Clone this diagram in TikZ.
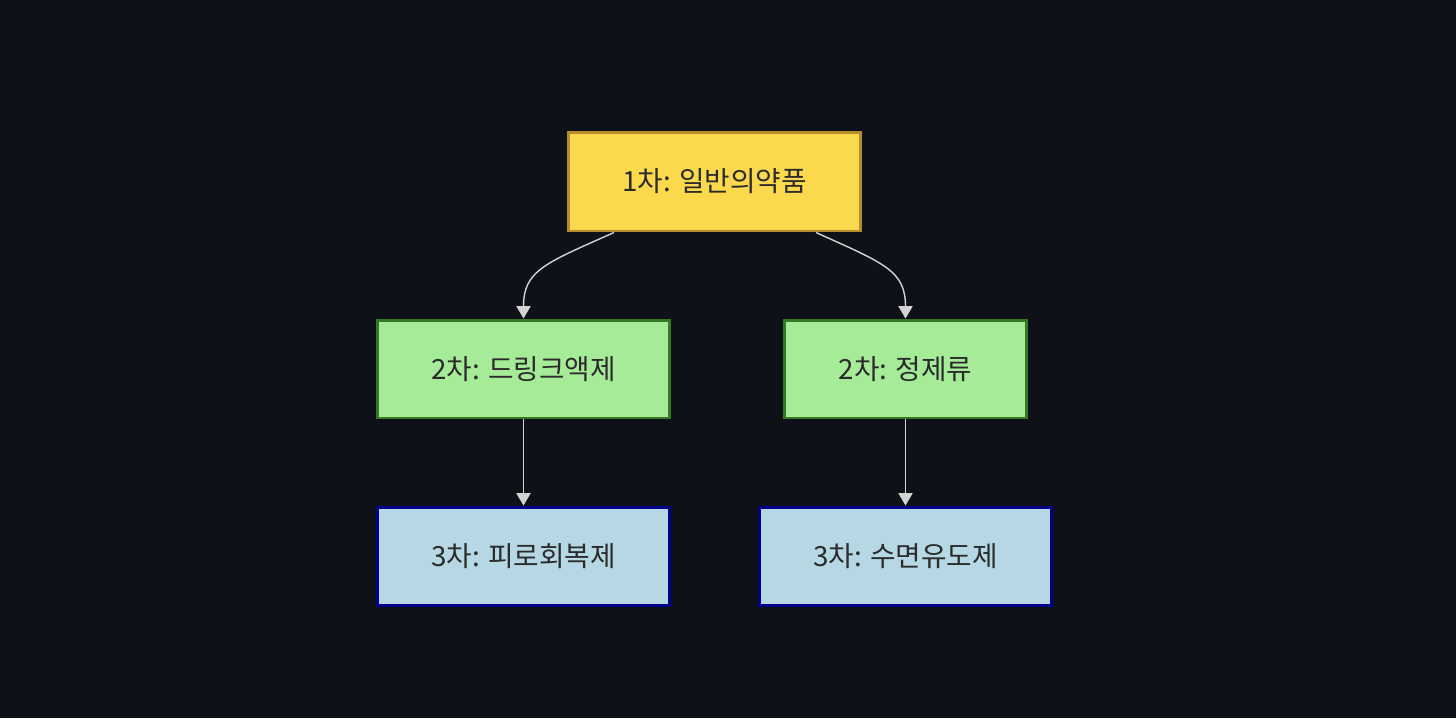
\documentclass[tikz,border=0pt]{standalone}
\usepackage{fontspec}
\setmainfont{Noto Sans CJK KR}
\usetikzlibrary{arrows.meta,calc}
\definecolor{bgdark}{HTML}{0E1117}
\definecolor{firstfill}{HTML}{FADA4C}
\definecolor{firstline}{HTML}{B48D2C}
\definecolor{secondfill}{HTML}{A6EC98}
\definecolor{secondline}{HTML}{357A22}
\definecolor{thirdfill}{HTML}{B5D8E4}
\definecolor{thirdline}{HTML}{00008B}
\definecolor{edgegray}{HTML}{D3D3D3}
\definecolor{labeltext}{HTML}{2B2B2B}
\begin{document}
\begin{tikzpicture}[x=0.02cm,y=-0.02cm,
  box/.style={rectangle,line width=1.7pt,inner sep=0pt,text=labeltext,
    font=\fontsize{15.8}{18}\selectfont,minimum height=1.96cm},
  first/.style={box,fill=firstfill,draw=firstline},
  second/.style={box,fill=secondfill,draw=secondline},
  third/.style={box,fill=thirdfill,draw=thirdline},
  edge/.style={draw=edgegray,line width=0.8pt,
    -{Triangle[width=8pt,length=7pt,fill=edgegray]}}]
\useasboundingbox[fill=bgdark] (0,0) rectangle (1456,718);
\node[first,minimum width=5.86cm,minimum height=1.98cm] (general) at (714.5,181.5) {1차: 일반의약품};
\node[second,minimum width=5.86cm] (drink) at (523.5,369) {2차: 드링크액제};
\node[second,minimum width=4.86cm] (tablet) at (905.5,369) {2차: 정제류};
\node[third,minimum width=5.84cm] (fatigue) at (523.5,556) {3차: 피로회복제};
\node[third,minimum width=5.84cm] (sleep) at (905.5,556) {3차: 수면유도제};
\draw[edge] ($(general.south)+(-100.5,0)$) .. controls ($(drink.north)+(21,-55)$) and ($(drink.north)+(0,-48)$) .. (drink.north);
\draw[edge] ($(general.south)+(101.5,0)$) .. controls ($(tablet.north)+(-21,-55)$) and ($(tablet.north)+(0,-48)$) .. (tablet.north);
\draw[edge] (drink) -- (fatigue);
\draw[edge] (tablet) -- (sleep);
\end{tikzpicture}
\end{document}
